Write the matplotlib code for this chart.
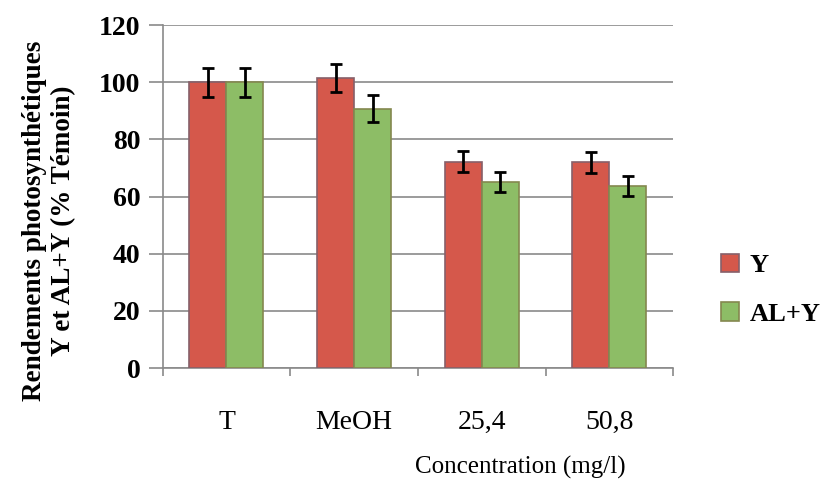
import numpy as np
import matplotlib
matplotlib.use('Agg')
import matplotlib.pyplot as plt

plt.rcParams['font.family'] = ['Liberation Serif', 'DejaVu Serif']

# data
categories = ['T', 'MeOH', '25,4', '50,8']
y_vals = [100, 101.5, 72.2, 72.0]
y_err = [5.0, 5.0, 3.7, 3.7]
aly_vals = [100, 90.7, 65.2, 63.8]
aly_err = [5.0, 4.7, 3.5, 3.5]
series_names = ['Y', 'AL+Y']

red = '#d5584b'
green = '#8dbd66'

fig = plt.figure(figsize=(8.3, 4.83), dpi=100)
ax = fig.add_axes([0.196, 0.238, 0.615, 0.71])

x = np.arange(len(categories))
w = 0.29
b1 = ax.bar(x - w/2, y_vals, w, color=red, edgecolor='#86606a', linewidth=1.2,
            yerr=y_err, error_kw=dict(ecolor='black', elinewidth=2, capsize=4.5, capthick=2),
            zorder=3, label=series_names[0])
b2 = ax.bar(x + w/2, aly_vals, w, color=green, edgecolor='#84884f', linewidth=1.2,
            yerr=aly_err, error_kw=dict(ecolor='black', elinewidth=2, capsize=4.5, capthick=2),
            zorder=3, label=series_names[1])

ax.set_ylim(0, 120)
ax.set_xlim(-0.5, len(categories) - 0.5)
ax.set_yticks(range(0, 121, 20))
ax.yaxis.grid(True, color='#8a8a8a', linewidth=1.2, zorder=0)
for s in ['top', 'right']:
    ax.spines[s].set_visible(False)
for s in ['left', 'bottom']:
    ax.spines[s].set_color('#8a8a8a')
    ax.spines[s].set_linewidth(1.2)

ax.tick_params(axis='y', direction='out', length=10, color='#8a8a8a', width=1.2,
               labelsize=20, pad=6)
for lab in ax.get_yticklabels():
    lab.set_fontweight('bold')

ax.set_xticks(x)
ax.set_xticklabels(categories)
ax.set_xticks(np.arange(-0.5, len(categories), 1.0), minor=True)
ax.tick_params(axis='x', which='major', length=0, labelsize=20, pad=30)
ax.tick_params(axis='x', which='minor', direction='out', length=6, color='#8a8a8a', width=1.2)

ax.set_ylabel('Rendements photosynthétiques\nY et AL+Y (% Témoin)', fontsize=19.5,
              fontweight='bold', linespacing=1.2)
ax.yaxis.set_label_coords(-0.17, 0.43)

fig.text(0.627, 0.033, 'Concentration (mg/l)', fontsize=18, ha='center', va='center')

fig.legend(handles=[b1, b2], loc='center left', bbox_to_anchor=(0.84, 0.4), frameon=False,
           prop={'weight': 'bold', 'size': 19}, handlelength=0.7, handleheight=0.7,
           handletextpad=0.4, labelspacing=0.95)

plt.savefig('out.png', dpi=100)
